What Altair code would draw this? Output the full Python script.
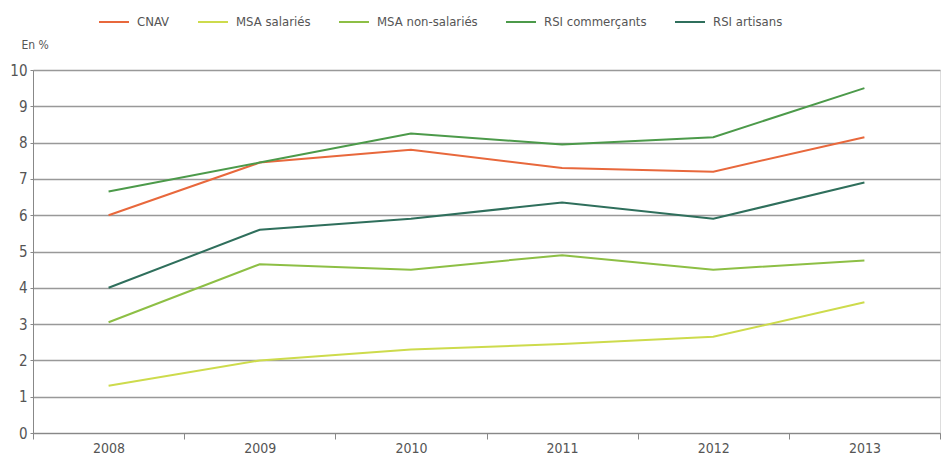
import altair as alt
import pandas as pd

years = ["2008", "2009", "2010", "2011", "2012", "2013"]
series = ["CNAV", "MSA salariés", "MSA non-salariés", "RSI commerçants", "RSI artisans"]
cnav = [6.0, 7.45, 7.8, 7.3, 7.2, 8.15]
msa_sal = [1.3, 2.0, 2.3, 2.45, 2.65, 3.6]
msa_nonsal = [3.05, 4.65, 4.5, 4.9, 4.5, 4.75]
rsi_com = [6.65, 7.45, 8.25, 7.95, 8.15, 9.5]
rsi_art = [4.0, 5.6, 5.9, 6.35, 5.9, 6.9]
colors = ["#e8683c", "#cddb4c", "#8dbf45", "#4c9a4a", "#2f6f5c"]

rows = []
for name, vals in zip(series, [cnav, msa_sal, msa_nonsal, rsi_com, rsi_art]):
    for y, v in zip(years, vals):
        rows.append({"Année": y, "Série": name, "Valeur": v})
df = pd.DataFrame(rows)

FONT = "DejaVu Sans Condensed"

chart = alt.Chart(df).mark_line(strokeWidth=2).encode(
    x=alt.X("Année:O", sort=years,
            scale=alt.Scale(type="band", paddingInner=0, paddingOuter=0),
            axis=alt.Axis(title=None, labelAngle=0, tickBand="extent", tickSize=6,
                          domainColor="#888", tickColor="#888", labelColor="#555",
                          labelFontSize=14, labelFont=FONT, labelPadding=2, grid=False)),
    y=alt.Y("Valeur:Q", scale=alt.Scale(domain=[0, 10], nice=False),
            axis=alt.Axis(values=list(range(0, 11)), title="En %", titleAngle=0,
                          titleX=-12, titleY=-26, titleAlign="left", titleBaseline="middle",
                          titleFont=FONT, titleFontSize=12, titleFontWeight="normal",
                          titleColor="#555",
                          gridColor="#999", gridWidth=1.5, domainColor="#888",
                          tickSize=3, tickColor="#888", labelColor="#555",
                          labelFontSize=15, labelFont=FONT, labelPadding=3)),
    color=alt.Color("Série:N", sort=series,
                    scale=alt.Scale(domain=series, range=colors),
                    legend=alt.Legend(title=None, orient="none", direction="horizontal",
                                      legendX=65, legendY=-64, symbolType="stroke",
                                      symbolSize=900, symbolStrokeWidth=2,
                                      labelFont=FONT, labelFontSize=13, labelColor="#555",
                                      columnPadding=24, labelOffset=7, symbolOffset=0)),
).properties(
    width=907, height=363,
    padding={"left": 33, "top": 70, "right": 3, "bottom": 22},
    autosize=alt.AutoSizeParams(type="none"),
).configure_view(stroke=None).configure(background="white")

chart.save("out.html", embed_options={"renderer": "svg", "actions": False})
